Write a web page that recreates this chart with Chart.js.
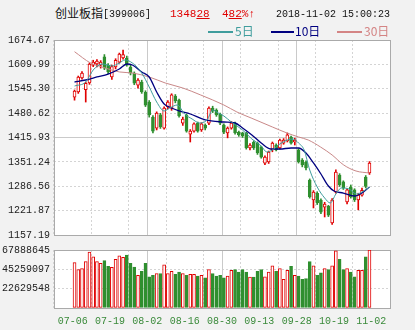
<!DOCTYPE html>
<html>
<head>
<meta charset="utf-8">
<script src="https://cdn.jsdelivr.net/npm/chart.js@4.4.1/dist/chart.umd.min.js"></script>
<style>
  body { margin: 0; width: 415px; height: 330px; background: #f2f2f2; position: relative; overflow: hidden; }
  canvas { position: absolute; left: 0; }
  .txt { position: absolute; white-space: nowrap; font-family: "Liberation Mono", monospace; font-size: 10px; line-height: 12px; z-index: 2; }
  .big { font-size: 11px; }
  .cjk { font-family: "Noto Sans CJK SC", sans-serif; font-size: 12px; }
  .red { color: #e00000; }
  .key { position: absolute; height: 2px; top: 31px; z-index: 2; }
</style>
</head>
<body>
<canvas id="kline" width="415" height="215" style="top:30px"></canvas>
<canvas id="volume" width="415" height="90" style="top:240px"></canvas>

<div class="txt cjk" style="left:55px;top:7px;color:#111">创业板指</div>
<div class="txt" style="left:103px;top:9px;color:#111">[399006]</div>
<div class="txt big red" style="left:170px;top:8px">1348<u>28</u></div>
<div class="txt big red" style="left:222px;top:8px">4<u>82</u>%↑</div>
<div class="txt" style="left:276px;top:9px;color:#111">2018-11-02 15:00:23</div>

<div class="key" style="left:208px;width:25px;background:#3f9d9d"></div>
<div class="txt cjk" style="left:235px;top:25px;color:#3f9d9d">5日</div>
<div class="key" style="left:271px;width:23px;background:#000080"></div>
<div class="txt cjk" style="left:295px;top:25px;color:#000080">10日</div>
<div class="key" style="left:337px;width:25px;background:#d48484"></div>
<div class="txt cjk" style="left:364px;top:25px;color:#d48484">30日</div>

<script>
const dates = ['07-06','07-09','07-10','07-11','07-12','07-13','07-16','07-17','07-18','07-19',
  '07-20','07-23','07-24','07-25','07-26','07-27','07-30','07-31','08-01','08-02',
  '08-03','08-06','08-07','08-08','08-09','08-10','08-13','08-14','08-15','08-16',
  '08-17','08-20','08-21','08-22','08-23','08-24','08-27','08-28','08-29','08-30',
  '08-31','09-03','09-04','09-05','09-06','09-07','09-10','09-11','09-12','09-13',
  '09-14','09-17','09-18','09-19','09-20','09-21','09-25','09-26','09-27','09-28',
  '10-08','10-09','10-10','10-11','10-12','10-15','10-16','10-17','10-18','10-19',
  '10-22','10-23','10-24','10-25','10-26','10-29','10-30','10-31','11-01','11-02'];

const opens = [1523,1537,1574,1543,1561,1608,1611,1608,1630,1608,
  1577,1603,1616,1627,1627,1603,1587,1555,1563,1536,
  1510,1470,1441,1476,1441,1497,1494,1526,1515,1454,
  1475,1425,1433,1454,1436,1449,1454,1494,1489,1478,
  1449,1428,1441,1454,1430,1428,1428,1388,1404,1401,
  1391,1348,1351,1383,1396,1388,1401,1407,1417,1404,
  1383,1356,1351,1303,1250,1268,1250,1231,1234,1189,
  1271,1316,1298,1245,1285,1277,1250,1263,1311,1322];

const highs = [1542,1579,1591,1563,1614,1621,1623,1620,1636,1612,
  1608,1625,1640,1648,1632,1608,1590,1572,1568,1540,
  1514,1474,1484,1480,1497,1514,1532,1530,1518,1470,
  1478,1437,1455,1457,1455,1452,1497,1499,1492,1481,
  1452,1444,1458,1457,1433,1430,1430,1400,1407,1404,
  1393,1367,1380,1404,1399,1412,1413,1428,1420,1414,
  1386,1360,1354,1306,1275,1272,1253,1244,1236,1254,
  1330,1320,1301,1280,1290,1280,1268,1282,1315,1352];

const lows = [1515,1533,1571,1510,1557,1604,1603,1600,1596,1585,
  1570,1598,1613,1624,1605,1582,1556,1547,1533,1498,
  1470,1428,1436,1440,1438,1492,1488,1508,1470,1448,
  1430,1404,1430,1430,1432,1436,1450,1482,1472,1450,
  1426,1415,1438,1425,1419,1416,1385,1383,1384,1371,
  1361,1344,1347,1378,1380,1385,1398,1404,1398,1396,
  1348,1338,1330,1255,1229,1238,1214,1205,1206,1185,
  1268,1286,1278,1240,1255,1246,1224,1260,1282,1318];

const closes = [1539,1576,1587,1560,1611,1616,1619,1616,1600,1590,
  1604,1621,1637,1636,1608,1587,1560,1568,1537,1502,
  1476,1433,1481,1444,1494,1510,1529,1513,1473,1465,
  1433,1433,1452,1433,1452,1441,1494,1486,1476,1454,
  1430,1441,1454,1428,1423,1420,1388,1396,1388,1375,
  1364,1364,1377,1401,1383,1409,1409,1423,1401,1409,
  1351,1343,1335,1258,1271,1242,1218,1239,1210,1250,
  1324,1290,1282,1277,1258,1250,1263,1276,1286.3,1348.28];

const volumes = [53200000,44900000,46000000,54300000,65600000,60000000,54300000,52400000,55400000,48700000,
  47500000,56900000,61100000,59200000,61900000,52400000,47900000,38100000,43000000,52400000,
  36600000,38100000,40400000,40400000,50600000,40400000,43000000,39300000,41900000,40400000,
  38100000,39300000,39300000,37300000,38100000,35400000,44900000,40400000,37300000,38100000,
  35400000,37300000,44100000,44900000,41900000,44900000,41900000,36200000,36200000,43000000,
  44900000,36600000,41900000,49400000,43000000,46000000,33600000,44100000,48700000,38100000,
  37300000,33600000,34300000,54300000,49400000,38100000,41100000,46000000,44900000,49400000,
  66800000,56900000,44900000,46000000,41900000,36600000,44100000,44100000,60000000,67888645];

// moving averages: bar index -> value
const ma5Days = [0,3,5,7.5,10,12,13.5,15.5,18,20,22,24,25.5,27.5,29.5,31.5,33.5,35.5,37,38.5,40,42,45,47.5,50,51.5,53,55,57,58.5,60,61.5,63,65,67,68.5,70,71.5,73.5,75.5,77,79];
const ma5 = [1552.6,1563.2,1595.1,1611.0,1605.7,1613.6,1621.6,1613.6,1587.1,1550.0,1510.2,1486.3,1494.2,1502.2,1478.3,1465.0,1454.4,1462.4,1488.9,1481.0,1473.0,1457.1,1435.8,1412.0,1393.4,1377.5,1382.8,1398.7,1409.3,1412.0,1401.3,1382.8,1329.7,1284.6,1255.4,1242.1,1265.9,1281.9,1279.3,1265.9,1271.3,1284.4];
const ma10Days = [0,3,6,9,12,14,15.5,18,20,22,24,26,28,31,35,40,43,45,47.5,50,52.5,55,58,60,62,64,66,68,69.5,72,75,77,79];
const ma10 = [1563.2,1568.5,1576.5,1584.4,1597.7,1611.0,1608.3,1589.8,1576.5,1536.7,1504.8,1494.2,1486.3,1478.3,1462.4,1457.1,1454.4,1441.2,1422.6,1401.3,1385.4,1385.4,1388.1,1388.1,1374.8,1348.3,1319.1,1287.2,1274.0,1268.6,1260.7,1268.6,1284.6];
const ma30Days = [0,4.3,7.4,12.1,15.5,20,24.3,29,33.8,40,43.5,47.3,53,56.9,60,62.6,65.9,69,72.1,75.4,79];
const ma30 = [1643.6,1613.6,1603.0,1589.8,1587.1,1576.5,1560.6,1547.3,1528.7,1502.2,1483.6,1467.7,1443.8,1427.9,1417.3,1409.3,1390.7,1369.5,1343.0,1327.0,1321.7];

const priceTicks = [1157.19,1221.87,1286.56,1351.24,1415.93,1480.62,1545.30,1609.99,1674.67];
const volumeTicks = [0,22629548,45259097,67888645];
const xTickLabels = ['07-06','07-19','08-02','08-16','08-30','09-13','09-28','10-19','11-02'];

const RED = '#e00000';
const GREEN = '#2f8f2f';
const up = closes.map((c, i) => c >= opens[i]);

// white plot area, solid frame and the solid middle lines
const panelPlugin = {
  id: 'panel',
  beforeDraw(chart) {
    const {ctx, chartArea: a} = chart;
    ctx.save();
    ctx.fillStyle = '#fff';
    ctx.fillRect(a.left, a.top, a.right - a.left, a.bottom - a.top);
    ctx.restore();
  },
  beforeDatasetsDraw(chart, args, opts) {
    const {ctx, chartArea: a, scales} = chart;
    const px = p => Math.round(p - 0.5) + 0.5;
    ctx.save();
    ctx.strokeStyle = '#cacaca';
    ctx.lineWidth = 1;
    ctx.beginPath();
    (opts.xSolid || []).forEach(v => {
      const x = px(scales.x.getPixelForValue(v));
      ctx.moveTo(x, a.top);
      ctx.lineTo(x, a.bottom);
    });
    (opts.ySolid || []).forEach(v => {
      const y = px(scales.y.getPixelForValue(v));
      ctx.moveTo(a.left, y);
      ctx.lineTo(a.right, y);
    });
    ctx.stroke();
    ctx.strokeStyle = '#aaaaaa';
    ctx.strokeRect(px(a.left), px(a.top), Math.round(a.right - a.left), Math.round(a.bottom - a.top));
    ctx.restore();
  }
};

const tickFont = {family: 'Liberation Mono', size: 10};

function xScale(showLabels) {
  return {
    type: 'linear',
    min: 0,
    max: 80,
    afterBuildTicks: s => { s.ticks = xTickLabels.map((_, k) => ({value: k * 10})); },
    afterFit: s => { s.height = showLabels ? 22 : 0; },
    grid: {color: '#d4d4d4', drawTicks: false},
    border: {display: false, dash: [2, 2]},
    ticks: {
      display: showLabels,
      autoSkip: false,
      maxRotation: 0,
      padding: 7,
      color: '#3a8a3a',
      font: tickFont,
      callback: v => xTickLabels[v / 10]
    }
  };
}

new Chart(document.getElementById('kline'), {
  type: 'bar',
  data: {
    datasets: [{
      type: 'line',
      data: ma5Days.map((d, k) => ({x: d + 0.5, y: ma5[k]})),
      borderColor: '#3f9d9d',
      borderWidth: 1,
      pointRadius: 0,
      cubicInterpolationMode: 'monotone',
      order: 1
    }, {
      type: 'line',
      data: ma10Days.map((d, k) => ({x: d + 0.5, y: ma10[k]})),
      borderColor: '#000080',
      borderWidth: 1.3,
      pointRadius: 0,
      cubicInterpolationMode: 'monotone',
      order: 1
    }, {
      type: 'line',
      data: ma30Days.map((d, k) => ({x: d + 0.5, y: ma30[k]})),
      borderColor: '#c98888',
      borderWidth: 1,
      pointRadius: 0,
      cubicInterpolationMode: 'monotone',
      order: 1
    }, {
      // candle bodies
      data: opens.map((o, i) => ({x: i + 0.5, y: [o, closes[i]]})),
      backgroundColor: ctx => up[ctx.dataIndex] ? '#fff' : GREEN,
      borderColor: ctx => up[ctx.dataIndex] ? RED : GREEN,
      borderWidth: 1,
      borderSkipped: false,
      barThickness: 3,
      grouped: false,
      order: 2
    }, {
      // wicks
      data: lows.map((l, i) => ({x: i + 0.5, y: [l, highs[i]]})),
      backgroundColor: ctx => up[ctx.dataIndex] ? RED : GREEN,
      borderWidth: 0,
      barThickness: 1,
      grouped: false,
      order: 3
    }]
  },
  options: {
    responsive: false,
    animation: false,
    events: [],
    layout: {padding: {left: 0, right: 25, top: 10, bottom: 10}},
    scales: {
      x: xScale(false),
      y: {
        min: priceTicks[0],
        max: priceTicks[priceTicks.length - 1],
        afterBuildTicks: s => { s.ticks = priceTicks.map(v => ({value: v})); },
        afterFit: s => { s.width = 54; },
        grid: {color: '#d4d4d4', drawTicks: false},
        border: {display: false, dash: [2, 2]},
        ticks: {
          padding: 4,
          color: '#222',
          font: tickFont,
          callback: v => v.toFixed(2)
        }
      }
    },
    plugins: {
      legend: {display: false},
      tooltip: {enabled: false},
      panel: {xSolid: [20, 40, 60], ySolid: [1415.93]}
    }
  },
  plugins: [panelPlugin]
});

new Chart(document.getElementById('volume'), {
  type: 'bar',
  data: {
    datasets: [{
      data: volumes.map((v, i) => ({x: i + 0.5, y: v})),
      backgroundColor: ctx => up[ctx.dataIndex] ? '#fff' : GREEN,
      borderColor: ctx => up[ctx.dataIndex] ? RED : GREEN,
      borderWidth: 1,
      borderSkipped: false,
      barThickness: 3
    }]
  },
  options: {
    responsive: false,
    animation: false,
    events: [],
    layout: {padding: {left: 0, right: 25, top: 8, bottom: 0}},
    scales: {
      x: xScale(true),
      y: {
        min: 0,
        max: volumeTicks[volumeTicks.length - 1],
        afterBuildTicks: s => { s.ticks = volumeTicks.map(v => ({value: v})); },
        afterFit: s => { s.width = 54; },
        grid: {color: '#d4d4d4', drawTicks: false},
        border: {display: false, dash: [2, 2]},
        ticks: {
          padding: 4,
          color: '#222',
          font: tickFont,
          callback: v => v === 0 ? '' : String(v)
        }
      }
    },
    plugins: {
      legend: {display: false},
      tooltip: {enabled: false},
      panel: {xSolid: [20, 40, 60], ySolid: []}
    }
  },
  plugins: [panelPlugin]
});
</script>
</body>
</html>
